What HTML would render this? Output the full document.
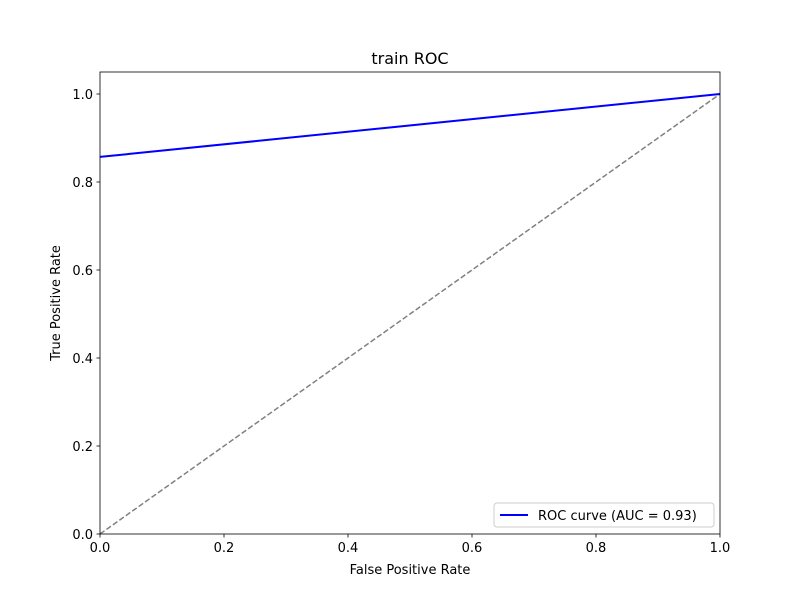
<!DOCTYPE html>
<html><head><meta charset="utf-8"><style>body{margin:0;background:#fff}svg{display:block;font-family:"DejaVu Sans","Liberation Sans",sans-serif}</style></head>
<body>
<svg width="800" height="600" xmlns="http://www.w3.org/2000/svg">
<rect width="800" height="600" fill="#fff"/>
<g id="plot"></g>
</svg>
<script>
const fpr=[0,1];
const tpr=[0.857,1];
const diagX=[0,1];
const diagY=[0,1];
const xTicks=[0,0.2,0.4,0.6,0.8,1.0];
const yTicks=[0,0.2,0.4,0.6,0.8,1.0];
const xTickLabels=["0.0","0.2","0.4","0.6","0.8","1.0"];
const yTickLabels=["0.0","0.2","0.4","0.6","0.8","1.0"];
const aucLabel="ROC curve (AUC = 0.93)";
const L=100,R=720,T=72,B=534;
const sx=v=>L+(R-L)*v;
const sy=v=>B-(B-T)*v/1.05;
const g=document.getElementById('plot');
const NS='http://www.w3.org/2000/svg';
function mk(tag,attrs,text){const e=document.createElementNS(NS,tag);for(const k in attrs)e.setAttribute(k,attrs[k]);if(text!==undefined)e.textContent=text;g.appendChild(e);return e;}
let e;
e=mk('polyline',{points:diagX.map((v,i)=>sx(v)+','+sy(diagY[i])).join(' '),fill:'none',stroke:'#808080','stroke-width':1.5,'stroke-dasharray':'5.5,2.4'});


e=mk('polyline',{points:fpr.map((v,i)=>sx(v)+','+sy(tpr[i])).join(' '),fill:'none',stroke:'#0000ff','stroke-width':2});


e=mk('rect',{x:L,y:T,width:R-L,height:B-T,fill:'none',stroke:'#000','stroke-width':0.8});


xTicks.forEach((v,i)=>{
 e=mk('line',{x1:sx(v),x2:sx(v),y1:B,y2:B+3.5,stroke:'#000','stroke-width':0.8});
 
 
 e=mk('text',{x:sx(v),y:B+18,'text-anchor':'middle','font-size':13},xTickLabels[i]);
 
 
});
yTicks.forEach((v,i)=>{
 e=mk('line',{x1:L-3.5,x2:L,y1:sy(v),y2:sy(v),stroke:'#000','stroke-width':0.8});
 
 
 e=mk('text',{x:L-7,y:sy(v)+5,'text-anchor':'end','font-size':13},yTickLabels[i]);
 
 
});
e=mk('text',{x:410,y:574,'text-anchor':'middle','font-size':13},'False Positive Rate');


e=mk('text',{x:60,y:303,'text-anchor':'middle','font-size':13,transform:'rotate(-90 60 303)'},'True Positive Rate');


e=mk('text',{x:410,y:64,'text-anchor':'middle','font-size':16},'train ROC');


e=mk('rect',{x:494,y:503,width:220,height:24,rx:3,fill:'#fff','fill-opacity':0.8,stroke:'#ccc','stroke-width':1});


e=mk('line',{x1:500,x2:528,y1:515,y2:515,stroke:'#0000ff','stroke-width':2});


e=mk('text',{x:538,y:520,'font-size':13},aucLabel);


</script>
</body></html>
